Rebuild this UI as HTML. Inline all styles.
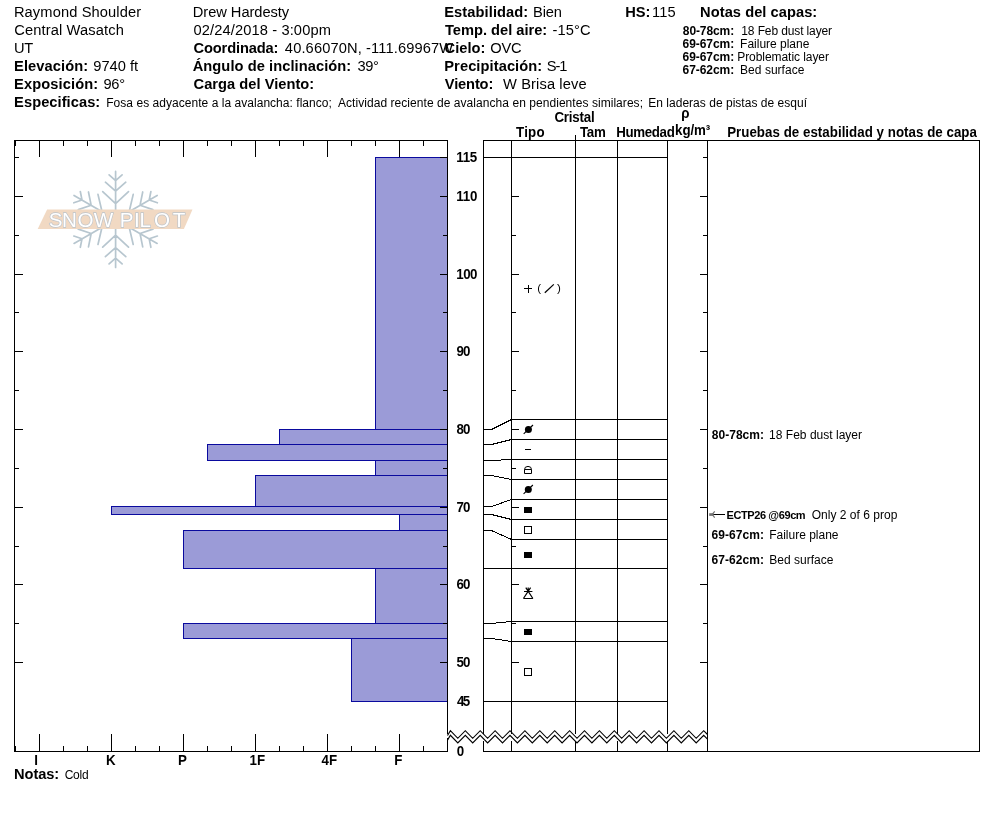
<!DOCTYPE html>
<html lang="es"><head><meta charset="utf-8"><title>SnowPilot - Raymond Shoulder</title>
<style>
html,body{margin:0;padding:0;background:#fff;}
body{width:994px;height:840px;overflow:hidden;}
svg{display:block;}
text{font-family:"Liberation Sans",sans-serif;fill:#000;white-space:pre;}
.b{font-weight:bold;}
.r{font-weight:normal;}
.ln{stroke:#000;stroke-width:1;fill:none;shape-rendering:crispEdges;}
.dg{stroke:#000;stroke-width:1;fill:none;shape-rendering:crispEdges;}
.bar{fill:#9b9bd7;stroke:#0a0a9e;stroke-width:1;shape-rendering:crispEdges;}
</style></head><body>
<svg width="994" height="840" viewBox="0 0 994 840">
<rect x="0" y="0" width="994" height="840" fill="#fff"/>
<g id="header">
<text id="t0" x="13.88" y="17.0" font-size="14.67" class="r" textLength="127.26" lengthAdjust="spacing">Raymond Shoulder</text>
<text id="t1" x="14.27" y="35.0" font-size="14.67" class="r" textLength="109.57" lengthAdjust="spacing">Central Wasatch</text>
<text id="t2" x="13.92" y="53.0" font-size="14.67" class="r" textLength="19.37" lengthAdjust="spacing">UT</text>
<text id="t3" x="14.09" y="71.0" font-size="14.67" class="b" textLength="74.08" lengthAdjust="spacing">Elevación:</text>
<text id="t4" x="93.29" y="71.0" font-size="14.67" class="r" textLength="44.83" lengthAdjust="spacing">9740 ft</text>
<text id="t5" x="14.09" y="89.0" font-size="14.67" class="b" textLength="84.17" lengthAdjust="spacing">Exposición:</text>
<text id="t6" x="103.47" y="89.0" font-size="14.67" class="r" textLength="21.53" lengthAdjust="spacing">96°</text>
<text id="t7" x="14.09" y="107.0" font-size="14.67" class="b" textLength="86.17" lengthAdjust="spacing">Especificas:</text>
<text id="t8" x="106.25" y="107.0" font-size="12" class="r" textLength="225.63" lengthAdjust="spacing">Fosa es adyacente a la avalancha: flanco;</text>
<text id="t9" x="337.99" y="107.0" font-size="12" class="r" textLength="305.00" lengthAdjust="spacing">Actividad reciente de avalancha en pendientes similares;</text>
<text id="t10" x="648.20" y="107.0" font-size="12" class="r" textLength="158.82" lengthAdjust="spacing">En laderas de pistas de esquí</text>
<text id="t11" x="192.81" y="17.0" font-size="14.67" class="r" textLength="96.35" lengthAdjust="spacing">Drew Hardesty</text>
<text id="t12" x="193.48" y="35.0" font-size="14.67" class="r" textLength="137.42" lengthAdjust="spacing">02/24/2018 - 3:00pm</text>
<text id="t13" x="193.59" y="53.0" font-size="14.67" class="b" textLength="84.78" lengthAdjust="spacing">Coordinada:</text>
<text id="t14" x="284.86" y="53.0" font-size="14.67" class="r" textLength="168.30" lengthAdjust="spacing">40.66070N, -111.69967W</text>
<text id="t15" x="192.67" y="71.0" font-size="14.67" class="b" textLength="158.59" lengthAdjust="spacing">Ángulo de inclinación:</text>
<text id="t16" x="357.58" y="71.0" font-size="14.67" class="r" textLength="21.25" lengthAdjust="spacing">39°</text>
<text id="t17" x="193.59" y="89.0" font-size="14.67" class="b" textLength="120.62" lengthAdjust="spacing">Carga del Viento:</text>
<text id="t18" x="444.25" y="17.0" font-size="14.67" class="b" textLength="84.01" lengthAdjust="spacing">Estabilidad:</text>
<text id="t19" x="533.04" y="17.0" font-size="14.67" class="r" textLength="28.90" lengthAdjust="spacing">Bien</text>
<text id="t20" x="444.89" y="35.0" font-size="14.67" class="b" textLength="102.37" lengthAdjust="spacing">Temp. del aire:</text>
<text id="t21" x="552.45" y="35.0" font-size="14.67" class="r" textLength="38.09" lengthAdjust="spacing">-15°C</text>
<text id="t22" x="444.59" y="53.0" font-size="14.67" class="b" textLength="40.78" lengthAdjust="spacing">Cielo:</text>
<text id="t23" x="490.28" y="53.0" font-size="14.67" class="r" textLength="31.35" lengthAdjust="spacing">OVC</text>
<text id="t24" x="444.25" y="71.0" font-size="14.67" class="b" textLength="97.97" lengthAdjust="spacing">Precipitación:</text>
<text id="t25" x="546.87" y="71.0" font-size="14.67" class="r" textLength="20.64" lengthAdjust="spacing">S-1</text>
<text id="t26" x="444.77" y="89.0" font-size="14.67" class="b" textLength="48.55" lengthAdjust="spacing">Viento:</text>
<text id="t27" x="503.03" y="89.0" font-size="14.67" class="r" textLength="83.55" lengthAdjust="spacing">W Brisa leve</text>
<text id="t28" x="625.19" y="17.0" font-size="14.67" class="b" textLength="25.12" lengthAdjust="spacing">HS:</text>
<text id="t29" x="652.08" y="17.0" font-size="14.67" class="r" textLength="23.48" lengthAdjust="spacing">115</text>
<text id="t30" x="700.09" y="17.0" font-size="14.67" class="b" textLength="117.12" lengthAdjust="spacing">Notas del capas:</text>
<text id="t31" x="682.82" y="35.0" font-size="12" class="b" textLength="51.32" lengthAdjust="spacing">80-78cm:</text>
<text id="t32" x="741.32" y="35.0" font-size="12" class="r" textLength="90.76" lengthAdjust="spacing">18 Feb dust layer</text>
<text id="t33" x="682.61" y="48.0" font-size="12" class="b" textLength="51.52" lengthAdjust="spacing">69-67cm:</text>
<text id="t34" x="740.09" y="48.0" font-size="12" class="r" textLength="69.27" lengthAdjust="spacing">Failure plane</text>
<text id="t35" x="682.61" y="61.0" font-size="12" class="b" textLength="51.52" lengthAdjust="spacing">69-67cm:</text>
<text id="t36" x="737.25" y="61.0" font-size="12" class="r" textLength="91.69" lengthAdjust="spacing">Problematic layer</text>
<text id="t37" x="682.61" y="74.0" font-size="12" class="b" textLength="51.52" lengthAdjust="spacing">67-62cm:</text>
<text id="t38" x="740.09" y="74.0" font-size="12" class="r" textLength="64.27" lengthAdjust="spacing">Bed surface</text>
</g>
<g id="colhead">
<text id="t39" transform="translate(554.44,122.0) scale(1,1.08)" font-size="13.33" class="b" textLength="40.33" lengthAdjust="spacing">Cristal</text>
<text id="t40" transform="translate(516.04,137.0) scale(1,1.08)" font-size="13.33" class="b" textLength="28.49" lengthAdjust="spacing">Tipo</text>
<text id="t41" transform="translate(579.90,137.0) scale(1,1.08)" font-size="13.33" class="b" textLength="25.90" lengthAdjust="spacing">Tam</text>
<text id="t42" transform="translate(616.21,137.0) scale(1,1.08)" font-size="13.33" class="b" textLength="58.60" lengthAdjust="spacing">Humedad</text>
<text id="t43" transform="translate(681.24,118.0) scale(1,1.08)" font-size="13.33" class="b">ρ</text>
<text id="t44" transform="translate(675.10,135.0) scale(1,1.08)" font-size="13.33" class="b" textLength="35.10" lengthAdjust="spacing">kg/m³</text>
<text id="t45" transform="translate(727.14,137.0) scale(1,1.08)" font-size="13.33" class="b" textLength="249.82" lengthAdjust="spacing">Pruebas de estabilidad y notas de capa</text>
</g>
<g id="logo">
<g transform="translate(115.6,219.4)" stroke="#b7c6cf" stroke-width="1.7" fill="none" stroke-linecap="round">
<path transform="rotate(0)" d="M0,0V-48 M0,-38.8L-6.5,-44.5 M0,-38.8L6.5,-44.5 M0,-28.2L-10.2,-37.2 M0,-28.2L10.2,-37.2 M0,-15.7L-12.9,-27.8 M0,-15.7L12.9,-27.8"/>
<path transform="rotate(60)" d="M0,0V-48 M0,-38.8L-6.5,-44.5 M0,-38.8L6.5,-44.5 M0,-28.2L-10.2,-37.2 M0,-28.2L10.2,-37.2 M0,-15.7L-12.9,-27.8 M0,-15.7L12.9,-27.8"/>
<path transform="rotate(120)" d="M0,0V-48 M0,-38.8L-6.5,-44.5 M0,-38.8L6.5,-44.5 M0,-28.2L-10.2,-37.2 M0,-28.2L10.2,-37.2 M0,-15.7L-12.9,-27.8 M0,-15.7L12.9,-27.8"/>
<path transform="rotate(180)" d="M0,0V-48 M0,-38.8L-6.5,-44.5 M0,-38.8L6.5,-44.5 M0,-28.2L-10.2,-37.2 M0,-28.2L10.2,-37.2 M0,-15.7L-12.9,-27.8 M0,-15.7L12.9,-27.8"/>
<path transform="rotate(240)" d="M0,0V-48 M0,-38.8L-6.5,-44.5 M0,-38.8L6.5,-44.5 M0,-28.2L-10.2,-37.2 M0,-28.2L10.2,-37.2 M0,-15.7L-12.9,-27.8 M0,-15.7L12.9,-27.8"/>
<path transform="rotate(300)" d="M0,0V-48 M0,-38.8L-6.5,-44.5 M0,-38.8L6.5,-44.5 M0,-28.2L-10.2,-37.2 M0,-28.2L10.2,-37.2 M0,-15.7L-12.9,-27.8 M0,-15.7L12.9,-27.8"/>
</g>
<polygon points="47.1,209.6 192.5,209.6 183.9,229 37.7,229" fill="#f1d9c3"/>
<text y="227" x="48.7 61.9 77.5 93.8 113 119.7 134.1 139.4 154 172.7" font-size="20.6" style="fill:#fff;stroke:#bcc3ca;stroke-width:1.3;font-weight:normal;paint-order:stroke">SNOW PILOT</text>
</g>
<g id="bars">
<rect class="bar" x="375.5" y="157.5" width="72.0" height="272.0"/>
<rect class="bar" x="279.5" y="429.5" width="168.0" height="15.0"/>
<rect class="bar" x="207.5" y="444.5" width="240.0" height="16.0"/>
<rect class="bar" x="375.5" y="460.5" width="72.0" height="15.0"/>
<rect class="bar" x="255.5" y="475.5" width="192.0" height="31.0"/>
<rect class="bar" x="111.5" y="506.5" width="336.0" height="8.0"/>
<rect class="bar" x="399.5" y="514.5" width="48.0" height="16.0"/>
<rect class="bar" x="183.5" y="530.5" width="264.0" height="38.0"/>
<rect class="bar" x="375.5" y="568.5" width="72.0" height="55.0"/>
<rect class="bar" x="183.5" y="623.5" width="264.0" height="15.0"/>
<rect class="bar" x="351.5" y="638.5" width="96.0" height="63.0"/>
</g>
<g id="axes" class="ln">
<path d="M14.5,140V751.5 M14,140.5H448 M14,751.5H448 M447.5,140V734 M447.5,738V751.5 M15.5,140V146 M15.5,746V752 M39.5,140V157 M39.5,734V752 M63.5,140V146 M63.5,746V752 M87.5,140V146 M87.5,746V752 M111.5,140V157 M111.5,734V752 M135.5,140V146 M135.5,746V752 M159.5,140V146 M159.5,746V752 M183.5,140V157 M183.5,734V752 M207.5,140V146 M207.5,746V752 M231.5,140V146 M231.5,746V752 M255.5,140V157 M255.5,734V752 M279.5,140V146 M279.5,746V752 M303.5,140V146 M303.5,746V752 M327.5,140V157 M327.5,734V752 M351.5,140V146 M351.5,746V752 M375.5,140V146 M375.5,746V752 M399.5,140V157 M399.5,734V752 M423.5,140V146 M423.5,746V752 M14,157.5H19 M440,157.5H448 M14,196.5H23 M440,196.5H448 M14,235.5H19 M443,235.5H448 M14,274.5H23 M440,274.5H448 M14,312.5H19 M443,312.5H448 M14,351.5H23 M440,351.5H448 M14,390.5H19 M443,390.5H448 M14,429.5H23 M440,429.5H448 M14,468.5H19 M443,468.5H448 M14,507.5H23 M440,507.5H448 M14,546.5H19 M443,546.5H448 M14,584.5H23 M440,584.5H448 M14,623.5H19 M443,623.5H448 M14,662.5H23 M440,662.5H448"/>
</g>
<g id="depthlabels">
<text id="t46" transform="translate(456.25,162.0) scale(1,1.08)" font-size="13.33" class="b" textLength="20.92" lengthAdjust="spacing">115</text>
<text id="t47" transform="translate(456.25,201.0) scale(1,1.08)" font-size="13.33" class="b" textLength="21.21" lengthAdjust="spacing">110</text>
<text id="t48" transform="translate(456.25,279.0) scale(1,1.08)" font-size="13.33" class="b" textLength="21.21" lengthAdjust="spacing">100</text>
<text id="t49" transform="translate(456.56,356.0) scale(1,1.08)" font-size="13.33" class="b" textLength="13.90" lengthAdjust="spacing">90</text>
<text id="t50" transform="translate(456.56,434.0) scale(1,1.08)" font-size="13.33" class="b" textLength="13.90" lengthAdjust="spacing">80</text>
<text id="t51" transform="translate(456.52,512.0) scale(1,1.08)" font-size="13.33" class="b" textLength="13.94" lengthAdjust="spacing">70</text>
<text id="t52" transform="translate(456.51,589.0) scale(1,1.08)" font-size="13.33" class="b" textLength="13.95" lengthAdjust="spacing">60</text>
<text id="t53" transform="translate(456.38,667.0) scale(1,1.08)" font-size="13.33" class="b" textLength="14.07" lengthAdjust="spacing">50</text>
<text id="t54" transform="translate(457.06,706.0) scale(1,1.08)" font-size="13.33" class="b" textLength="13.11" lengthAdjust="spacing">45</text>
<text id="t55" transform="translate(456.65,756.0) scale(1,1.08)" font-size="13.33" class="b" textLength="8.70" lengthAdjust="spacing">0</text>
<text transform="translate(36.0,765) scale(1,1.08)" font-size="13.33" class="b" text-anchor="middle">I</text>
<text transform="translate(110.7,765) scale(1,1.08)" font-size="13.33" class="b" text-anchor="middle">K</text>
<text transform="translate(182.4,765) scale(1,1.08)" font-size="13.33" class="b" text-anchor="middle">P</text>
<text transform="translate(257.3,765) scale(1,1.08)" font-size="13.33" class="b" text-anchor="middle">1F</text>
<text transform="translate(329.4,765) scale(1,1.08)" font-size="13.33" class="b" text-anchor="middle">4F</text>
<text transform="translate(398.2,765) scale(1,1.08)" font-size="13.33" class="b" text-anchor="middle">F</text>
<text id="t56" x="14.05" y="779.0" font-size="14.67" class="b" textLength="45.16" lengthAdjust="spacing">Notas:</text>
<text id="t57" x="64.63" y="779.0" font-size="12" class="r" textLength="23.97" lengthAdjust="spacing">Cold</text>
</g>
<g id="table" class="ln">
<path d="M483,140.5H979.5V751.5H483 M483.5,140V751.5 M511.5,140V751.5 M575.5,140V751.5 M617.5,140V751.5 M667.5,140V751.5 M707.5,140V751.5 M575.5,134.5V140 M483.5,157.5H667.5 M703,157.5H708 M511,196.5H519 M700,196.5H708 M511,235.5H516 M703,235.5H708 M511,274.5H519 M700,274.5H708 M511,312.5H516 M703,312.5H708 M511,351.5H519 M700,351.5H708 M511,390.5H516 M703,390.5H708 M511,429.5H519 M700,429.5H708 M511,468.5H516 M703,468.5H708 M511,507.5H519 M700,507.5H708 M511,546.5H516 M703,546.5H708 M511,584.5H519 M700,584.5H708 M511,623.5H516 M703,623.5H708 M511,662.5H519 M700,662.5H708 M511.5,419.5H667.5 M511.5,439.5H667.5 M511.5,459.5H667.5 M511.5,479.5H667.5 M511.5,499.5H667.5 M511.5,519.5H667.5 M511.5,539.5H667.5 M511.5,568.5H667.5 M511.5,621.5H667.5 M511.5,641.5H667.5 M511.5,701.5H667.5 M483.5,701.5H511.5 M483.5,568.5H511.5"/>
</g>
<g id="connectors" class="dg">
<path d="M483.5,429.5H491.5L511.5,419.5 M483.5,444.5H491.5L511.5,439.5 M483.5,460.5H491.5L511.5,459.5 M483.5,475.5H491.5L511.5,479.5 M483.5,506.5H491.5L511.5,499.5 M483.5,514.5H491.5L511.5,519.5 M483.5,530.5H491.5L511.5,539.5 M483.5,623.5H491.5L511.5,621.5 M483.5,638.5H491.5L511.5,641.5"/>
</g>
<g id="symbols" stroke="#000" stroke-width="1" fill="none">
<path d="M524,288.5H532 M528.5,285V293" shape-rendering="crispEdges"/>
<path d="M544.8,292.7L553.8,284.4" stroke-width="1.25"/>
</g>
<text id="t58" x="537.33" y="292.0" font-size="11.5" class="r">(</text>
<text id="t59" x="557.04" y="292.0" font-size="11.5" class="r">)</text>
<g id="symbols2" stroke="#000" stroke-width="1" fill="none">
<circle cx="528.4" cy="429.4" r="3.5" fill="#000" stroke="none"/>
<path d="M523.6999999999999,433.9L533.0,425.0" stroke-width="1.1"/>
<path d="M525,449.5H531" shape-rendering="crispEdges"/>
<path d="M524.5,473.5V469.5A3.5,3.1 0 0 1 531.5,469.5V473.5Z M524.5,469.5H531.5"/>
<circle cx="528.3" cy="489.4" r="3.5" fill="#000" stroke="none"/>
<path d="M523.5999999999999,493.9L532.9,485.0" stroke-width="1.1"/>
<rect x="524" y="507" width="8" height="6" fill="#000" stroke="none" shape-rendering="crispEdges"/>
<rect x="524.5" y="526.5" width="7" height="7.0" shape-rendering="crispEdges"/>
<rect x="524" y="552" width="8" height="6" fill="#000" stroke="none" shape-rendering="crispEdges"/>
<path d="M523.4,598.5H532.9 M523.4,598.5L530.6,587.6 M532.9,598.5L525.8,587.6 M524,591.5H532.4 M528.2,587.5V592" stroke-width="1.2"/>
<rect x="524" y="629" width="8" height="6" fill="#000" stroke="none" shape-rendering="crispEdges"/>
<rect x="524.5" y="668.5" width="7" height="7.0" shape-rendering="crispEdges"/>
</g>
<g id="break">
<rect x="448" y="734" width="259" height="7" fill="#fff"/>
<polyline points="447.5,735.5 450.4,730.7 457.8,738.3 465.3,730.7 472.7,738.3 480.2,730.7 487.6,738.3 495.1,730.7 502.5,738.3 510.0,730.7 517.4,738.3 524.9,730.7 532.3,738.3 539.8,730.7 547.2,738.3 554.7,730.7 562.1,738.3 569.6,730.7 577.0,738.3 584.5,730.7 591.9,738.3 599.4,730.7 606.8,738.3 614.3,730.7 621.7,738.3 629.2,730.7 636.6,738.3 644.1,730.7 651.5,738.3 659.0,730.7 666.4,738.3 673.9,730.7 681.3,738.3 688.8,730.7 696.2,738.3 703.7,730.7 707.5,734.5" fill="none" stroke="#000" stroke-width="1.15" stroke-linejoin="miter"/>
<polyline points="447.5,740.1 450.4,735.3 457.8,743.0 465.3,735.3 472.7,743.0 480.2,735.3 487.6,743.0 495.1,735.3 502.5,743.0 510.0,735.3 517.4,743.0 524.9,735.3 532.3,743.0 539.8,735.3 547.2,743.0 554.7,735.3 562.1,743.0 569.6,735.3 577.0,743.0 584.5,735.3 591.9,743.0 599.4,735.3 606.8,743.0 614.3,735.3 621.7,743.0 629.2,735.3 636.6,743.0 644.1,735.3 651.5,743.0 659.0,735.3 666.4,743.0 673.9,735.3 681.3,743.0 688.8,735.3 696.2,743.0 703.7,735.3 707.5,739.1" fill="none" stroke="#000" stroke-width="1.15" stroke-linejoin="miter"/>
</g>
<g id="notes">
<text id="t60" x="711.79" y="439.0" font-size="12" class="b" textLength="52.15" lengthAdjust="spacing">80-78cm:</text>
<text id="t61" x="769.09" y="439.0" font-size="12" class="r" textLength="92.95" lengthAdjust="spacing">18 Feb dust layer</text>
<path d="M713,514.5H725" class="ln"/>
<rect x="709.2" y="513.2" width="4.4" height="2.7" fill="#747474"/>
<path d="M712.2,514.5L714.7,511.4 M712.2,514.5L714.7,517.7" stroke="#747474" stroke-width="1.2" fill="none"/>
<text id="t62" x="726.51" y="519.0" font-size="11" class="b" textLength="79.13" lengthAdjust="spacing">ECTP26 @69cm</text>
<text id="t63" x="811.66" y="519.0" font-size="12" class="r" textLength="85.81" lengthAdjust="spacing">Only 2 of 6 prop</text>
<text id="t64" x="711.58" y="539.0" font-size="12" class="b" textLength="52.40" lengthAdjust="spacing">69-67cm:</text>
<text id="t65" x="769.15" y="539.0" font-size="12" class="r" textLength="69.38" lengthAdjust="spacing">Failure plane</text>
<text id="t66" x="711.58" y="564.0" font-size="12" class="b" textLength="52.40" lengthAdjust="spacing">67-62cm:</text>
<text id="t67" x="769.15" y="564.0" font-size="12" class="r" textLength="64.38" lengthAdjust="spacing">Bed surface</text>
</g>
</svg></body></html>
